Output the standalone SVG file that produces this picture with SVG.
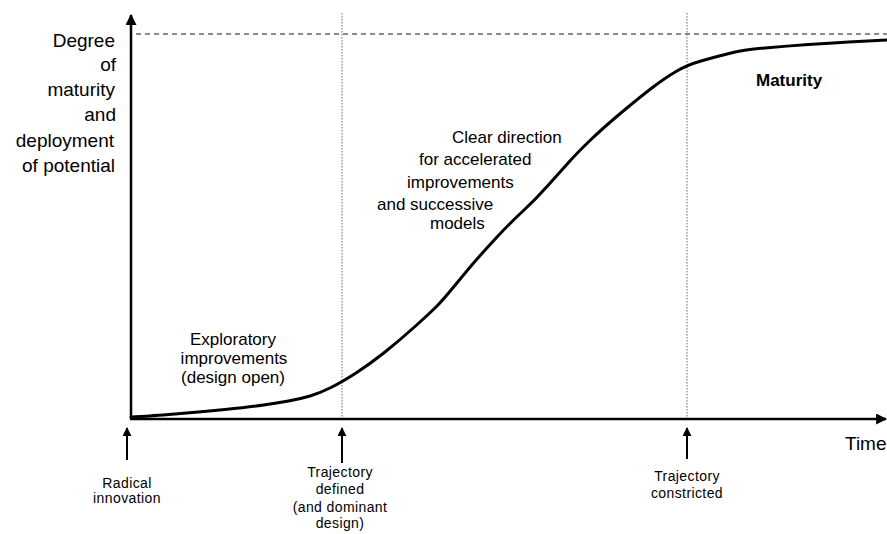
<svg xmlns="http://www.w3.org/2000/svg" width="887" height="534" viewBox="0 0 887 534">
<style>
text{font-family:"Liberation Sans",Arial,sans-serif;fill:#000}
.ax{font-size:19px}
.lb{font-size:17px}
.sm{font-size:14px;letter-spacing:0.4px}
.axis{stroke:#000;stroke-width:2.5;fill:none}
.guide{stroke:#666;stroke-width:1;fill:none;stroke-dasharray:1.5 1.5}
.dash{stroke:#666;stroke-width:1.3;fill:none;stroke-dasharray:5 4}
.up{stroke:#000;stroke-width:2;fill:none;marker-end:url(#ah)}
</style>
<defs>
<marker id="ah" viewBox="0 0 10 10" refX="9" refY="5" markerWidth="4.5" markerHeight="4.5" orient="auto" markerUnits="strokeWidth">
<path d="M0,0 L10,5 L0,10 Z" fill="#000"/>
</marker>
<marker id="ahA" viewBox="0 0 10 10" refX="9" refY="5" markerWidth="4.4" markerHeight="4.4" orient="auto" markerUnits="strokeWidth">
<path d="M0,0 L10,5 L0,10 Z" fill="#000"/>
</marker>
</defs>
<rect width="887" height="534" fill="#fff"/>
<g id="guides">
<line class="dash" x1="136" y1="34" x2="887" y2="34"/>
<line class="guide" x1="342" y1="13" x2="342" y2="418"/>
<line class="guide" x1="687" y1="13" x2="687" y2="418"/>
</g>
<g id="axes">
<line class="axis" x1="131" y1="419" x2="131" y2="15" marker-end="url(#ahA)"/>
<line class="axis" x1="130" y1="419" x2="886" y2="419" marker-end="url(#ahA)"/>
</g>
<g id="curve">
<path fill="none" stroke="#000" stroke-width="3" stroke-linejoin="round" stroke-linecap="round" d="M131,417 L140.5,416.5 Q150,416 175,414 Q200,412 225,409.5 Q250,407 263.5,405 Q277,403 288.5,401 Q300,399 310,396 Q320,393 331,387.5 Q342,382 356,373 Q370,364 385,352 Q400,340 415,326.5 Q430,313 436.5,306.5 Q443,300 456.5,283.5 Q470,267 477.5,258.5 Q485,250 497.5,236.5 Q510,223 522.5,211.5 Q535,200 547.5,186 Q560,172 569,162 Q578,152 590.5,140 Q603,128 621.5,112.5 Q640,97 652.5,87.5 Q665,78 676,71.5 Q687,65 701,61 Q715,57 729,53.5 Q743,50 765,48 Q787,46 808.5,44.5 Q830,43 848.5,42 Q867,41 887,40"/>
</g>
<g id="connectors">
<line class="up" x1="127" y1="460" x2="127" y2="428"/>
<line class="up" x1="342" y1="463" x2="342" y2="428"/>
<line class="up" x1="687" y1="459" x2="687" y2="428"/>
</g>
<g id="y-label" class="ax" text-anchor="end">
<text class="ax" x="115" y="47">Degree</text>
<text class="ax" x="116" y="71">of</text>
<text class="ax" x="115" y="96">maturity</text>
<text class="ax" x="116" y="121">and</text>
<text class="ax" x="114" y="147">deployment</text>
<text class="ax" x="115" y="172">of potential</text>
</g>
<g id="x-label">
<text class="ax" x="845" y="450">Time</text>
</g>
<g id="maturity">
<text x="756" y="86" font-size="17" font-weight="bold">Maturity</text>
</g>
<g id="clear-direction">
<text class="lb" x="452" y="143">Clear direction</text>
<text class="lb" x="419" y="165">for accelerated</text>
<text class="lb" x="407" y="188">improvements</text>
<text class="lb" x="377" y="210">and successive</text>
<text class="lb" x="430" y="229">models</text>
</g>
<g id="exploratory" text-anchor="middle">
<text class="lb" x="233" y="345">Exploratory</text>
<text class="lb" x="234" y="364">improvements</text>
<text class="lb" x="233" y="383">(design open)</text>
</g>
<g id="radical" text-anchor="middle">
<text class="sm" x="127" y="488">Radical</text>
<text class="sm" x="127" y="503">innovation</text>
</g>
<g id="trajectory-defined" text-anchor="middle">
<text class="sm" x="340" y="477">Trajectory</text>
<text class="sm" x="340" y="494">defined</text>
<text class="sm" x="340" y="512">(and dominant</text>
<text class="sm" x="340" y="528">design)</text>
</g>
<g id="trajectory-constricted" text-anchor="middle">
<text class="sm" x="687" y="481">Trajectory</text>
<text class="sm" x="687" y="498">constricted</text>
</g>
</svg>
